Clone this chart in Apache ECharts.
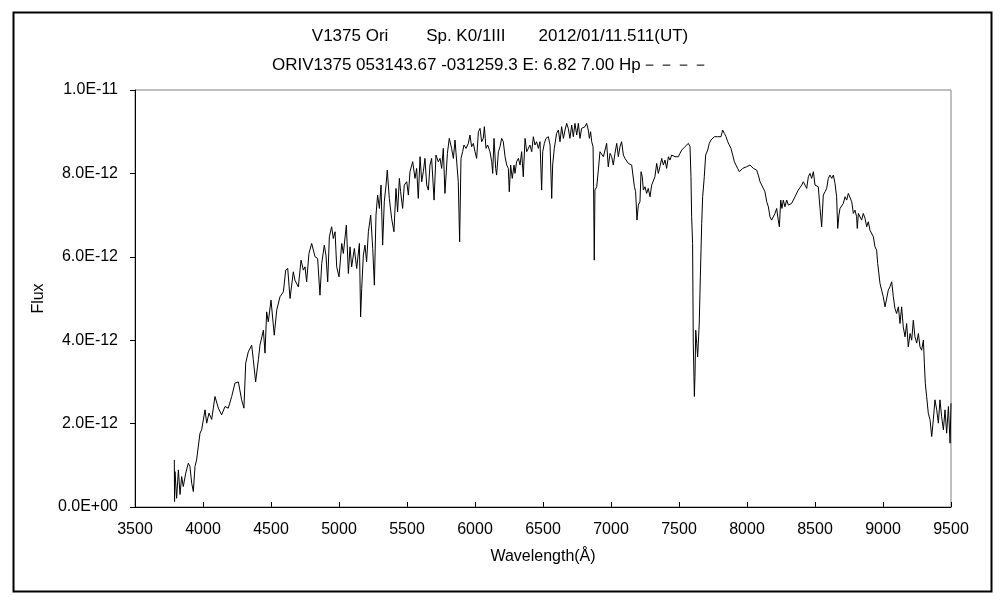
<!DOCTYPE html>
<html>
<head>
<meta charset="utf-8">
<script src="https://cdn.jsdelivr.net/npm/echarts@6/dist/echarts.min.js"></script>
<style>
html,body{margin:0;padding:0;background:#fff;}
#chart{width:1000px;height:600px;}
</style>
</head>
<body>
<div id="chart"></div>
<script>
// Title lines
var titleLine1 = 'V1375 Ori        Sp. K0/1III       2012/01/11.511(UT)';
var titleLine2 = 'ORIV1375 053143.67 -031259.3 E: 6.82 7.00 Hp－－－－';
var xAxisName = 'Wavelength(Å)';
var yAxisName = 'Flux';

// Spectrum segments: [wavelength (Å), flux in units of 1E-12]
var blueSegment = [[3789,1.13],[3791,0.13],[3794,0.85],[3806,0.21],[3819,0.89],[3831,0.30],[3843,0.73],[3855,0.49],[3873,0.81],[3892,1.05],[3904,0.97],[3917,0.57],[3929,0.37],[3941,0.97],[3953,1.13],[3966,1.13],[3978,1.77],[3990,1.85],[4015,2.33],[4027,2.01],[4044,2.25],[4064,2.10],[4088,2.65],[4113,2.37],[4137,2.21],[4162,2.41],[4186,2.37],[4211,2.65],[4235,2.97],[4260,3.00],[4284,2.57],[4301,2.37],[4314,3.45],[4333,3.72],[4358,3.88],[4370,3.53],[4387,3.00],[4407,3.53],[4419,3.88],[4444,4.24],[4456,3.69],[4468,4.68],[4480,4.44],[4500,4.96],[4524,4.12],[4542,4.72],[4566,5.04],[4591,5.16],[4608,5.68],[4623,5.72],[4640,5.00],[4664,5.64],[4676,5.44],[4701,5.28],[4721,5.92],[4738,5.68],[4750,5.76],[4762,5.40],[4779,6.08],[4799,6.32],[4824,6.00],[4843,5.96],[4860,5.08],[4873,5.84],[4892,6.28],[4904,6.04],[4917,5.40],[4929,6.48],[4946,6.72],[4958,6.44],[4971,6.60],[4983,5.76],[5000,5.52],[5020,6.32],[5032,6.08],[5054,6.76],[5069,5.60],[5081,6.24],[5093,5.76],[5113,6.20],[5130,5.72],[5150,6.32],[5159,4.56]];
var greenSegment = [[5167,5.24],[5179,6.04],[5191,6.28],[5203,5.88],[5216,6.60],[5233,7.00],[5248,6.20],[5260,5.32],[5272,7.00],[5284,7.48],[5297,7.16],[5309,7.72],[5321,6.28],[5333,7.32],[5346,7.72],[5355,8.08],[5370,7.40],[5387,6.92],[5404,6.60],[5419,7.64],[5431,7.08],[5444,7.88],[5453,7.56],[5468,7.16],[5480,7.72],[5498,7.80],[5510,7.48],[5522,8.04],[5542,8.28],[5559,7.88],[5571,8.12],[5583,7.40],[5596,8.40],[5608,7.80],[5620,8.04],[5632,8.36],[5645,7.72],[5657,7.60],[5669,8.20],[5681,8.36],[5699,7.36],[5713,8.44],[5730,8.28],[5743,8.36],[5755,8.12],[5767,8.60],[5779,7.52],[5797,8.48],[5811,8.84],[5828,8.60],[5841,8.36],[5853,8.80],[5865,8.84],[5877,7.80],[5887,6.36],[5897,8.36],[5909,8.52],[5919,8.68],[5934,8.60],[5951,8.72],[5963,8.92],[5975,8.64],[5988,8.72],[6000,8.52],[6012,8.36],[6025,9.00],[6037,9.08],[6049,8.76],[6061,8.84],[6069,9.12],[6081,8.60],[6093,8.68],[6110,8.52],[6123,8.28],[6130,8.00],[6140,8.84],[6152,8.12],[6159,7.96],[6172,8.52],[6184,8.64],[6196,8.84],[6208,8.76],[6221,8.40],[6233,8.20],[6245,8.12],[6252,7.56],[6262,8.20],[6274,7.88],[6287,8.20],[6294,8.00],[6306,8.28],[6319,8.36],[6331,8.20],[6343,8.52],[6355,7.92],[6368,8.84],[6380,8.52],[6392,8.52],[6404,8.68],[6417,8.52],[6429,8.88],[6441,8.68],[6453,8.76],[6466,8.60],[6478,8.76],[6490,7.60],[6498,8.52],[6510,8.72],[6522,8.84],[6539,8.88],[6552,8.68],[6564,7.40],[6571,8.20],[6583,8.60]];
var redSegment = [[6600,8.96],[6613,9.04],[6625,8.76],[6637,9.12],[6650,8.84],[6662,9.04],[6674,9.20],[6686,9.08],[6698,8.84],[6711,9.16],[6723,8.88],[6735,9.20],[6748,8.92],[6760,9.20],[6772,8.84],[6784,9.08],[6797,9.08],[6809,9.12],[6821,9.20],[6833,9.04],[6841,8.84],[6850,9.00],[6858,8.76],[6868,8.64],[6872,7.68],[6877,5.92],[6882,7.60],[6895,7.68],[6907,8.08],[6919,8.52],[6931,8.48],[6944,8.40],[6956,8.56],[6968,8.72],[6980,8.16],[6993,8.48],[7005,8.40],[7017,8.20],[7029,8.48],[7042,8.72],[7054,8.40],[7066,8.64],[7078,8.76],[7091,8.44],[7103,8.36],[7115,8.32],[7127,8.24],[7140,8.28],[7152,8.20],[7164,8.24],[7172,7.68],[7181,7.56],[7191,6.88],[7201,7.24],[7213,7.32],[7221,8.04],[7230,7.92],[7238,7.60],[7250,7.68],[7262,7.52],[7274,7.64],[7287,7.44],[7299,7.72],[7311,7.68],[7323,7.92],[7336,8.24],[7348,8.00],[7360,8.16],[7373,8.36],[7385,8.20],[7397,8.32],[7409,8.12],[7422,8.40],[7434,8.32],[7446,8.44],[7458,8.48],[7471,8.40],[7483,8.44],[7495,8.40],[7507,8.48],[7520,8.56],[7532,8.60],[7544,8.64],[7556,8.68],[7569,8.72],[7581,8.64],[7588,7.92],[7593,6.96],[7600,6.32],[7605,3.93],[7610,3.12],[7613,2.65],[7618,3.21],[7623,4.24],[7630,3.93],[7637,3.60],[7642,3.93],[7649,4.41],[7657,5.52],[7667,6.80],[7674,7.44],[7686,7.92],[7696,8.44],[7711,8.56],[7723,8.72],[7735,8.80],[7748,8.76],[7760,8.88],[7772,8.92],[7784,8.88],[7797,8.92],[7809,8.88],[7821,9.04],[7833,8.96],[7846,8.88],[7858,8.76],[7870,8.76],[7882,8.60],[7895,8.44],[7907,8.28],[7919,8.20],[7931,8.12],[7944,8.04],[7956,8.08],[7968,8.12],[7980,8.16]];
var nirSegment = [[7997,8.16],[8022,8.20],[8047,8.12],[8071,8.08],[8083,7.96],[8096,7.80],[8108,7.72],[8120,7.68],[8132,7.56],[8145,7.32],[8157,7.20],[8169,6.96],[8181,6.88],[8194,6.92],[8206,7.04],[8218,7.16],[8230,6.88],[8238,6.72],[8248,7.36],[8257,7.16],[8267,7.36],[8279,7.20],[8292,7.36],[8304,7.24],[8316,7.24],[8328,7.28],[8341,7.32],[8353,7.44],[8365,7.48],[8377,7.60],[8390,7.64],[8402,7.72],[8414,7.80],[8426,7.76],[8439,7.64],[8451,7.92],[8463,8.00],[8475,7.88],[8488,8.04],[8500,7.72],[8512,7.68],[8524,7.68],[8537,7.16],[8549,6.72],[8561,7.48],[8574,7.56],[8586,7.64],[8598,7.88],[8610,7.96],[8623,7.88],[8635,7.96],[8647,7.76],[8659,7.44],[8667,6.68],[8676,7.00],[8684,7.16],[8696,7.12],[8708,7.28],[8721,7.44],[8733,7.36],[8745,7.52],[8757,7.48],[8770,7.32],[8782,7.04],[8794,7.12],[8806,6.96],[8811,6.68],[8819,7.04],[8831,7.08],[8843,6.88],[8855,7.04],[8868,6.92],[8880,6.72],[8892,6.84],[8904,6.64],[8917,6.68],[8929,6.48],[8941,6.24],[8953,6.16],[8961,5.84],[8971,5.88],[8978,5.36],[8990,5.20],[9002,5.04],[9015,4.80],[9027,4.76],[9039,5.20],[9051,5.28],[9064,5.40],[9076,5.04],[9088,4.76],[9100,4.64],[9113,4.80],[9125,4.40],[9137,4.80],[9149,4.32],[9162,4.08],[9174,4.40],[9186,3.84],[9199,4.16],[9211,4.00],[9223,4.48],[9235,4.08],[9248,3.93],[9260,4.16],[9272,3.84],[9284,3.76],[9297,4.00],[9304,3.45],[9311,2.97],[9321,2.65],[9333,2.25],[9346,2.09],[9358,1.69],[9370,2.09],[9382,2.57],[9395,2.33],[9407,2.01],[9419,2.57],[9431,2.17],[9444,1.85],[9456,2.33],[9468,1.77],[9481,2.41],[9493,1.53],[9500,2.49]];

var FLUX_UNIT = 1e-12;
var spectrum = [].concat(blueSegment, greenSegment, redSegment, nirSegment).map(function (p) {
  return [p[0], p[1] * FLUX_UNIT];
});

function fmtExp(v) {
  var s = v.toExponential(1); // e.g. 8.0e-12
  var parts = s.split('e');
  var exp = parseInt(parts[1], 10);
  var sign = exp < 0 ? '-' : '+';
  var a = Math.abs(exp);
  return parts[0] + 'E' + sign + (a < 10 ? '0' + a : a);
}

var FONT = '"Liberation Sans", Arial, sans-serif';
var chart = echarts.init(document.getElementById('chart'), null, {renderer: 'canvas'});
chart.setOption({
  animation: false,
  backgroundColor: '#fff',
  title: [
    {text: titleLine1, left: 'center', top: 23,
     textStyle: {fontFamily: FONT, fontSize: 17, fontWeight: 'normal', color: '#000'}},
    {text: titleLine2, left: 267, top: 52,
     textStyle: {fontFamily: FONT, fontSize: 17, fontWeight: 'normal', color: '#000'}}
  ],
  graphic: [
    {type: 'rect', left: 11, top: 10, z: 100, silent: true,
     shape: {width: 978, height: 579},
     style: {fill: 'none', stroke: '#000', lineWidth: 2}}
  ],
  grid: {left: 135, right: 49, top: 90, bottom: 93, show: true,
         borderColor: '#808080', borderWidth: 1, backgroundColor: '#fff'},
  xAxis: {
    type: 'value', min: 3500, max: 9500, interval: 500,
    name: xAxisName, nameLocation: 'middle', nameGap: 42,
    nameTextStyle: {fontFamily: FONT, fontSize: 16, color: '#000'},
    axisLine: {show: true, lineStyle: {color: '#000', width: 1}},
    axisTick: {show: true, inside: true, length: 5, lineStyle: {color: '#000'}},
    axisLabel: {fontFamily: FONT, fontSize: 16, color: '#000', margin: 15,
                formatter: function (v) { return String(v); }},
    splitLine: {show: false}
  },
  yAxis: {
    type: 'value', min: 0, max: 10 * FLUX_UNIT, interval: 2 * FLUX_UNIT,
    name: yAxisName, nameLocation: 'middle', nameGap: 88,
    nameTextStyle: {fontFamily: FONT, fontSize: 16, color: '#000'},
    axisLine: {show: true, lineStyle: {color: '#000', width: 1}},
    axisTick: {show: true, inside: false, length: 5, lineStyle: {color: '#000'}},
    axisLabel: {fontFamily: FONT, fontSize: 16, color: '#000', margin: 17,
                formatter: function (v) { return fmtExp(v); }},
    splitLine: {show: false}
  },
  series: [{
    type: 'line', data: spectrum, showSymbol: false, symbol: 'none',
    lineStyle: {color: '#000', width: 1}, silent: true
  }]
});
</script>
</body>
</html>
